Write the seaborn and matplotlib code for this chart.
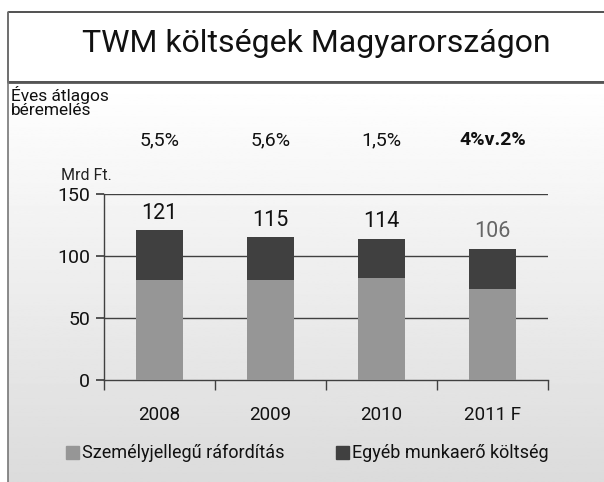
import numpy as np
import pandas as pd
import matplotlib
matplotlib.use("Agg")
import matplotlib.pyplot as plt
from matplotlib.patches import Rectangle
from matplotlib.transforms import blended_transform_factory
import seaborn as sns

# data
years = ["2008", "2009", "2010", "2011 F"]
personal = [81, 81, 82, 73]          # Személyjellegű ráfordítás
totals = [121, 115, 114, 106]        # total bar height
raises = ["5,5%", "5,6%", "1,5%", "4%v.2%"]
yticks = [0, 50, 100, 150]

LIGHT = "#969696"
DARK = "#404040"
W, H = 604, 482

sns.set_theme(style="white")
plt.rcParams["font.family"] = ["Roboto", "Liberation Sans", "DejaVu Sans"]

fig = plt.figure(figsize=(W / 100, H / 100), dpi=100)
fig.patch.set_facecolor("white")

# background panel with vertical gradient
bg = fig.add_axes([0, 0, 1, 1], zorder=0)
bg.set_xlim(0, W)
bg.set_ylim(H, 0)
bg.axis("off")
grad = np.linspace(1.0, 0.86, 256).reshape(-1, 1)
bg.imshow(grad, cmap="gray", vmin=0, vmax=1, extent=[8, W, H, 82], aspect="auto")
bg.add_patch(Rectangle((8, 12), W, 70, fill=False, edgecolor="#333333", lw=1.2))
bg.plot([8, W], [82, 82], color="#555555", lw=2)
bg.plot([8, 8], [12, H], color="#777777", lw=1.2)
bg.text(316, 44, "TWM költségek Magyarországon", ha="center", va="center",
        fontsize=23, color="#111111")
bg.text(11, 102, "Éves átlagos\nbéremelés", ha="left", va="center",
        fontsize=12.5, linespacing=0.85, color="#111111")
bg.text(86, 175, "Mrd Ft.", ha="center", va="center", fontsize=11.5, color="#222222")

ax = fig.add_axes([104 / W, 1 - 380 / H, 444 / W, 186 / H], zorder=1)
ax.patch.set_alpha(0)
df = pd.DataFrame({"year": years, "personal": personal, "total": totals})
sns.barplot(data=df, x="year", y="total", color=DARK, width=0.42,
            saturation=1, linewidth=0, ax=ax, zorder=3)
sns.barplot(data=df, x="year", y="personal", color=LIGHT, width=0.42,
            saturation=1, linewidth=0, ax=ax, zorder=4)

ax.set_xlim(-0.5, 3.5)
ax.set_ylim(0, 150)
ax.set_yticks(yticks)
ax.set_xlabel("")
ax.set_ylabel("")
for y in yticks[1:]:
    ax.axhline(y, color=DARK, lw=1, zorder=2)
for s in ["top", "right"]:
    ax.spines[s].set_visible(False)
for s in ["left", "bottom"]:
    ax.spines[s].set_color(DARK)
    ax.spines[s].set_linewidth(1)
ax.tick_params(axis="y", direction="out", length=6, color=DARK, labelsize=14,
               labelcolor="#111111", left=True, pad=4)
ax.tick_params(axis="x", which="major", length=0, labelsize=13.5,
               labelcolor="#111111", pad=19)
ax.set_xticks(np.arange(-0.5, 4, 1), minor=True)
ax.tick_params(axis="x", which="minor", direction="out", length=7, color=DARK,
               bottom=True)

for i, t in enumerate(totals):
    ax.text(i, t + 5, str(t), ha="center", va="bottom", fontsize=15.5,
            color="#666666" if i == 3 else "#111111")
trans = blended_transform_factory(ax.transData, fig.transFigure)
for i, r in enumerate(raises):
    ax.text(i, 1 - 140 / H, r, transform=trans, ha="center", va="center",
            fontsize=14, fontweight="bold" if i == 3 else "normal",
            color="#111111")

# legend
bg.add_patch(Rectangle((66, 446), 13, 13, color=LIGHT))
bg.text(82, 453, "Személyjellegű ráfordítás", ha="left", va="center",
        fontsize=13, color="#111111")
bg.add_patch(Rectangle((336, 446), 13, 13, color=DARK))
bg.text(352, 453, "Egyéb munkaerő költség", ha="left", va="center",
        fontsize=13, color="#111111")

fig.savefig("out.png", dpi=100)
